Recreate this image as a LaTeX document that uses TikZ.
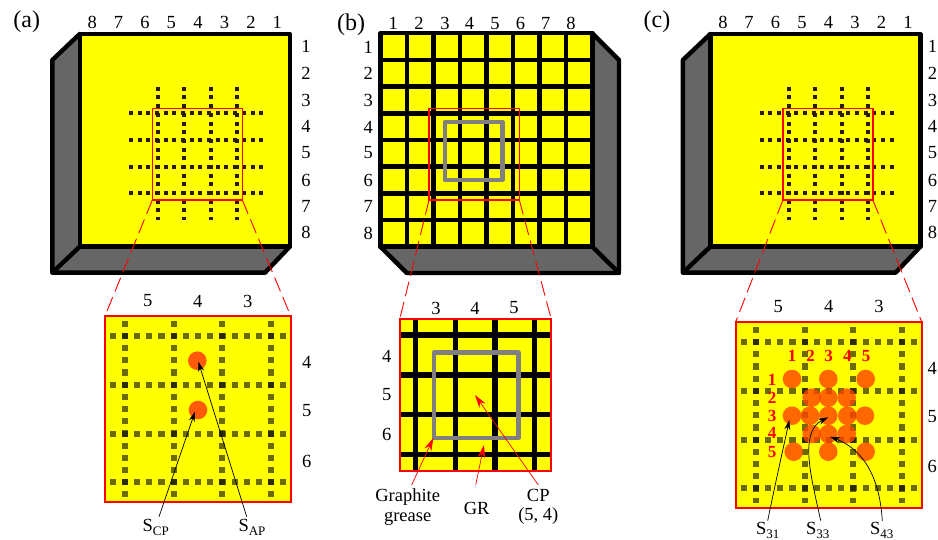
\documentclass[tikz,border=0pt]{standalone}
\usepackage{fontspec}
\setmainfont{Liberation Serif}
\usetikzlibrary{arrows.meta}
\definecolor{sideg}{HTML}{666666}
\definecolor{yel}{HTML}{FFFF00}
\definecolor{spot}{HTML}{FF5A0A}
\definecolor{spotb}{HTML}{FF4200}
\definecolor{rd}{HTML}{FF0000}
\definecolor{dotc}{HTML}{2A1A10}
\newcommand\subS[1]{S\raisebox{-0.22em}{\fontsize{13}{13}\selectfont #1}}
\tikzset{
 txt/.style={inner sep=0pt,outer sep=0pt,font=\fontsize{18.5}{21}\selectfont,align=center},
 txts/.style={inner sep=0pt,outer sep=0pt,font=\fontsize{18.5}{21}\selectfont},
 tag/.style={inner sep=0pt,outer sep=0pt,font=\fontsize{24}{26}\selectfont},
 redn/.style={inner sep=0pt,outer sep=0pt,text=rd,font=\fontsize{17}{19}\selectfont\bfseries},
 body/.style={draw=black,line width=4.4pt,line join=round},
 sidef/.style={body,fill=sideg},
 frontf/.style={body,fill=yel},
 bigdot/.style={draw=dotc,line width=4pt,dash pattern=on 4pt off 4.68pt},
 smalldot/.style={draw=black,draw opacity=.58,line width=6.2pt,dash pattern=on 6.2pt off 5.99pt},
 zoomrect/.style={draw=rd,line width=1.3pt,inner sep=0pt,outer sep=0pt,anchor=north west},
 insetbox/.style={draw=rd,line width=2.2pt,inner sep=0pt,outer sep=0pt,anchor=north west},
 lead/.style={draw=rd,line width=.9pt,dash pattern=on 15pt off 6pt},
 spotn/.style={circle,fill=spot,inner sep=0pt,outer sep=0pt,minimum size=18.6pt},
 tspot/.style={spotn,fill=spotb,fill opacity=.8},
 blk/.style={draw=black,line width=.7pt,-{Stealth[length=10pt,width=6pt]}},
 redarr/.style={draw=rd,line width=.7pt,-{Stealth[length=13pt,width=7.5pt]}},
 cgrid/.style={draw=black,line width=4.5pt},
 igrid/.style={draw=black,line width=5.4pt},
 grease/.style={draw=gray,line width=4.4pt,line join=round}
}
\begin{document}
\begin{tikzpicture}[x=1pt,y=-1pt]
\useasboundingbox (0,0) rectangle (938,540);
\clip (0,0) rectangle (938,540);
\fill[white] (0,0) rectangle (938,540);
% ---------- (a)
\node[tag] (tagA) at (26.7,21.7) {(a)};
\draw[sidef] (79.7,34) -- (52.3,60) -- (52.3,272.7) -- (265,272.7) -- (289.7,246.7) -- cycle;
\draw[frontf] (79.7,34) rectangle (289.7,246.7);
\draw[body] (79.7,246.7) -- (52.3,272.7);
\foreach \x in {158,184.4,211,237.4} \draw[bigdot] (\x,86.8) -- (\x,220);
\foreach \y in {113.3,140,166.7,193.3} \draw[bigdot] (129,\y) -- (264,\y);
\foreach \x/\n in {92.3/8,118.5/7,145/6,171.3/5,198/4,224.5/3,251/2,277.3/1}
  \node[txt] (atop\n) at (\x,22.7) {\n};
\foreach \y/\n in {46.7/1,73.3/2,100/3,126.5/4,153/5,180/6,206/7,232.5/8}
  \node[txt] (aright\n) at (306,\y) {\n};
\node[zoomrect,minimum width=90pt,minimum height=91.3pt] (aRect) at (152.3,108.7) {};
\node[insetbox,fill=yel,minimum width=185.7pt,minimum height=186pt] (aInset) at (105,316) {};
\foreach \x in {125,173.7,222.3,271} \draw[smalldot] (\x,320.6) -- (\x,497);
\foreach \y in {336,385,433.7,482} \draw[smalldot] (109.6,\y) -- (286,\y);
\draw[insetbox,fill=none] (105,316) rectangle (290.7,502);
\draw[lead] (aRect.south west) -- (aInset.north west);
\draw[lead] (aRect.south east) -- (aInset.north east);
\node[txt] (acol5) at (147.7,301) {5};
\node[txt] (acol4) at (197.7,301) {4};
\node[txt] (acol3) at (247.7,301) {3};
\node[txt] (aRow4) at (306.7,362) {4};
\node[txt] (aRow5) at (306.7,411) {5};
\node[txt] (aRow6) at (306.7,461) {6};
\node[spotn] (sAP) at (197.3,360.7) {};
\node[spotn] (sCP) at (198,410) {};
\coordinate (tipAP) at (198.3,361.7);
\coordinate (tipCP) at (195,411.7);
\coordinate (tailCP) at (159,516.7);
\coordinate (tailAP) at (246.7,516.7);
\node[txts] (lblCP) at (155.7,527) {\subS{CP}};
\node[txts] (lblAP) at (252,527) {\subS{AP}};
\draw[blk] (tailCP) -- (tipCP);
\draw[blk] (tailAP) -- (tipAP);
% ---------- (b)
\node[tag] (tagB) at (351,25) {(b)};
\draw[sidef] (592.3,33.3) -- (619,60) -- (619,273) -- (406.7,273) -- (380.3,246.7) -- cycle;
\draw[frontf] (380.3,33.3) rectangle (592.3,246.7);
\draw[body] (592.3,246.7) -- (619,273);
\foreach \k in {1,...,7} {
  \draw[cgrid] ({380.3+26.5*\k},33.3) -- ({380.3+26.5*\k},246.7);
  \draw[cgrid] (380.3,{33.3+26.67*\k}) -- (592.3,{33.3+26.67*\k});
}
\foreach \x/\n in {393.3/1,419/2,445/3,469.5/4,495/5,520.5/6,545.7/7,571/8}
  \node[txt] (bTop\n) at (\x,23.3) {\n};
\foreach \y/\n in {47/1,73.5/2,100/3,127/4,153/5,180/6,206/7,233/8}
  \node[txt] (bLeft\n) at (368.3,\y) {\n};
\draw[grease] (444.7,122) rectangle (502.3,180);
\node[zoomrect,minimum width=90.3pt,minimum height=91.3pt] (bRect) at (429,108.7) {};
\node[insetbox,fill=yel,minimum width=151.6pt,minimum height=152pt] (bInset) at (399.7,319.3) {};
\foreach \x in {415.7,455.3,495,534.7} \draw[igrid] (\x,319.3) -- (\x,471.3);
\foreach \y in {335,375,414.7,454.7} \draw[igrid] (399.7,\y) -- (551.3,\y);
\draw[grease] (434,352.7) rectangle (518.3,437.7);
\draw[insetbox,fill=none] (399.7,319.3) rectangle (551.3,471.3);
\draw[lead] (bRect.south west) -- (bInset.north west);
\draw[lead] (bRect.south east) -- (bInset.north east);
\node[txt] (bCol3) at (436,308) {3};
\node[txt] (bCol4) at (475,308) {4};
\node[txt] (bCol5) at (514,308) {5};
\node[txt] (bRow4) at (386.7,356) {4};
\node[txt] (bRow5) at (386.7,395) {5};
\node[txt] (bRow6) at (386.7,434.5) {6};
\node[txt] (lblGrease) at (407.7,507) {Graphite\\[-1.5pt]grease};
\node[txt] (lblGR) at (476.7,508) {GR};
\node[txt] (lblCPxy) at (538.3,507) {CP\\[-1.5pt](5, 4)};
\coordinate (tailGrease) at (411.7,485);
\coordinate (tailGR) at (475.7,485);
\coordinate (tailCPxy) at (538.3,485);
\coordinate (tipGrease) at (433.3,438);
\coordinate (tipGR) at (484,445);
\coordinate (tipCPxy) at (475,395);
\draw[redarr] (tailGrease) -- (tipGrease);
\draw[redarr] (tailGR) -- (tipGR);
\draw[redarr] (tailCPxy) -- (tipCPxy);
% ---------- (c)
\node[tag] (tagC) at (657,21.7) {(c)};
\begin{scope}[xshift=630.6pt]
  \draw[sidef] (79.7,34) -- (52.3,60) -- (52.3,272.7) -- (265,272.7) -- (289.7,246.7) -- cycle;
  \draw[frontf] (79.7,34) rectangle (289.7,246.7);
  \draw[body] (79.7,246.7) -- (52.3,272.7);
  \foreach \x in {158,184.4,211,237.4} \draw[bigdot] (\x,86.8) -- (\x,220);
  \foreach \y in {113.3,140,166.7,193.3} \draw[bigdot] (129,\y) -- (264,\y);
  \foreach \x/\n in {92.3/8,118.5/7,145/6,171.3/5,198/4,224.5/3,251/2,277.3/1}
    \node[txt] (ctop\n) at (\x,22.7) {\n};
  \foreach \y/\n in {46.7/1,73.3/2,100/3,126.5/4,153/5,180/6,206/7,232.5/8}
    \node[txt] (cright\n) at (301.8,\y) {\n};
  \node[zoomrect,minimum width=90pt,minimum height=91.3pt] (cRect) at (152.3,108.7) {};
  \node[insetbox,fill=yel,minimum width=186.3pt,minimum height=186pt] (cInset) at (105,322.3) {};
  \foreach \x in {125.4,174.1,222.7,271.4} \draw[smalldot] (\x,326.9) -- (\x,503.3);
  \foreach \y in {342.3,391.3,440,488.3} \draw[smalldot] (110,\y) -- (286.4,\y);
  \draw[insetbox,fill=none] (105,322.3) rectangle (291.3,508.3);
  \draw[lead] (cRect.south west) -- (cInset.north west);
  \draw[lead] (cRect.south east) -- (cInset.north east);
\end{scope}
\node[txt] (cCol5) at (778.3,306.7) {5};
\node[txt] (cCol4) at (828.7,306.7) {4};
\node[txt] (cCol3) at (879,306.7) {3};
\node[txt] (cRow4) at (932.2,368) {4};
\node[txt] (cRow5) at (932.2,417) {5};
\node[txt] (cRow6) at (932.2,466) {6};
\foreach \nm/\x/\y in {s11/792/379,s13/828.3/379,s15/865.7/379,
  s22/811.7/397.7,s23/828.3/397.7,s24/846.7/397.7,
  s31/792/415.7,s32/810/415.7,s33/828.3/415.7,s34/847.3/415.7,s35/865/415.7,
  s42/811.7/434,s43/828.3/434,s44/846.7/434,
  s51/793.7/451.7,s53/828.3/451.7,s55/865.7/451.7}
  \node[tspot] (\nm) at (\x,\y) {};
\foreach \x/\n in {792/1,810.7/2,828.7/3,847.3/4,866/5}
  \node[redn] (cN\n) at (\x,356) {\n};
\foreach \y/\n in {380/1,398.3/2,416/3,433.3/4,451.7/5}
  \node[redn] (cM\n) at (772,\y) {\n};
\node[txts] (lbl31) at (767.7,530.5) {\subS{31}};
\node[txts] (lbl33) at (817.7,530.5) {\subS{33}};
\node[txts] (lbl43) at (881.7,530.5) {\subS{43}};
\coordinate (tail31) at (767.7,520.7);
\coordinate (tail33) at (820.7,520.7);
\coordinate (tail43) at (882.3,521);
\coordinate (tip31) at (789.3,420);
\coordinate (tip33) at (828.3,417.3);
\coordinate (tip43) at (830,436.7);
\draw[blk] (tail31) .. controls (776,480) and (784,445) .. (tip31);
\draw[blk] (tail33) .. controls (812,480) and (798,432) .. (tip33);
\draw[blk] (tail43) .. controls (880,480) and (865,450) .. (tip43);
\end{tikzpicture}
\end{document}
